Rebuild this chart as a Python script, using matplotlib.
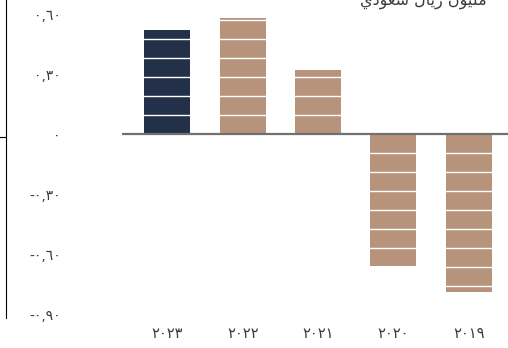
import numpy as np
import matplotlib.pyplot as plt
from matplotlib.lines import Line2D

# Annual values (million SAR), newest year first
years = ['٢٠٢٣', '٢٠٢٢', '٢٠٢١', '٢٠٢٠', '٢٠١٩']
values = [0.52, 0.58, 0.32, -0.66, -0.79]
bar_colors = ['#22304a', '#b8937c', '#b8937c', '#b8937c', '#b8937c']

ticks = [-0.9, -0.6, -0.3, 0.0, 0.3, 0.6]
tick_labels = ['-٠,٩٠', '-٠,٦٠', '-٠,٣٠', '٠', '٠,٣٠', '٠,٦٠']

# unit label, glyphs already in presentation forms and laid out left to right
unit = ('\ufef1\ufea9\ufeee\ufecc\ufeb3' + ' ' +
        '\ufedd\ufe8e\ufef3\ufead' + ' ' +
        '\ufee5\ufeee\ufef4\ufee0\ufee3')

W, H = 508, 348
fig = plt.figure(figsize=(W / 100, H / 100), dpi=100)
ax = fig.add_axes([122 / W, 1 - 318 / H, 1 - 122 / W, 318 / H])

x = np.arange(len(years))
ax.bar(x, values, width=0.61, color=bar_colors, zorder=2)

# white bands across the bars
step = 0.095
for k in range(-10, 8):
    if k != 0:
        ax.axhline(k * step, color='white', lw=1.0, zorder=3)
ax.axhline(0, color='#707070', lw=1.6, zorder=4)

ax.set_xlim(-0.6, 4.52)
ax.set_ylim(-0.92, 0.67)
ax.set_yticks(ticks)
ax.set_yticklabels(tick_labels)
ax.set_xticks(x)
ax.set_xticklabels(years)
ax.tick_params(axis='y', length=0, pad=44, labelsize=10, labelcolor='#3a3a3a')
ax.tick_params(axis='x', length=0, pad=6, labelsize=10.5, labelcolor='#3a3a3a')
for s in ax.spines.values():
    s.set_visible(False)

fig.text(487 / W, 1 - 5 / H, unit, ha='right', va='baseline',
         fontsize=11.5, color='#3a3a3a', family='DejaVu Sans')

# frame line on the left edge
fig.add_artist(Line2D([5.5 / W, 5.5 / W], [1, 1 - 318 / H], color='black', lw=0.8))
fig.add_artist(Line2D([0, 5.5 / W], [1 - 137 / H, 1 - 137 / H], color='black', lw=0.8))

fig.savefig('out.png', dpi=100)
